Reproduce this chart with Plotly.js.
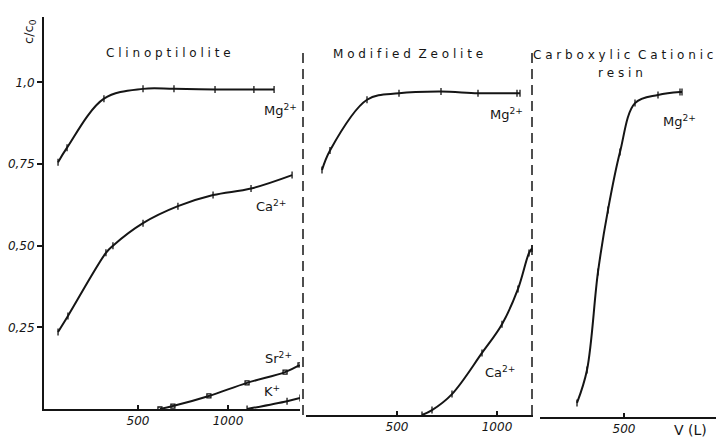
<!DOCTYPE html>
<html>
<head>
<meta charset="utf-8">
<script src="https://cdn.plot.ly/plotly-3.0.1.min.js"></script>
<style>
  html, body { margin: 0; padding: 0; background: #fff; }
  #chart { width: 716px; height: 441px; }
</style>
</head>
<body>
<div id="chart"></div>
<script>
// Breakthrough curves c/c0 against effluent volume V (L)

// Clinoptilolite
const clinoMgV = [56, 106, 311, 528, 700, 928, 1144, 1256];
const clinoMgC = [0.755, 0.80, 0.95, 0.98, 0.98, 0.978, 0.978, 0.978];
const clinoCaV = [56, 111, 322, 361, 528, 722, 917, 1128, 1356];
const clinoCaC = [0.236, 0.285, 0.478, 0.50, 0.569, 0.621, 0.655, 0.675, 0.716];
const clinoSrV = [622, 694, 894, 1106, 1317, 1400];
const clinoSrC = [0.0, 0.009, 0.04, 0.08, 0.113, 0.135];
const clinoKV = [1106, 1328, 1400];
const clinoKC = [0.0, 0.024, 0.034];

// Modified zeolite
const modMgV = [125, 165, 350, 510, 720, 905, 1100, 1115];
const modMgC = [0.75, 0.81, 0.965, 0.985, 0.99, 0.985, 0.985, 0.985];
const modCaV = [625, 675, 775, 925, 1025, 1105, 1160, 1175];
const modCaC = [0.0, 0.015, 0.064, 0.19, 0.278, 0.386, 0.496, 0.51];

// Carboxylic cationic resin
const resinMgV = [265, 315, 370, 420, 480, 555, 670, 780, 790];
const resinMgC = [0.043, 0.144, 0.444, 0.634, 0.811, 0.961, 0.986, 0.995, 0.995];

// axis labels
const yTickVals = [0.25, 0.5, 0.75, 1.0];
const yTickText = ['0,25', '0,50', '0,75', '1,0'];
const xTickVals12 = [500, 1000];
const xTickText12 = ['500', '1000'];
const xTickVals3 = [500];
const xTickText3 = ['500'];

const ink = '#151515';
const hand = 'DejaVu Sans, sans-serif';

function curve(x, y, xa, ya, symbol, msize) {
  return {
    x: x, y: y, xaxis: xa, yaxis: ya,
    type: 'scatter', mode: 'lines+markers',
    line: { color: ink, width: 2, shape: 'spline', smoothing: 1 },
    marker: { symbol: symbol, size: msize, color: ink, line: { color: ink, width: 1.3 } },
    hoverinfo: 'skip', showlegend: false
  };
}

const traces = [
  curve(clinoMgV, clinoMgC, 'x', 'y', 'line-ns', 5),
  curve(clinoCaV, clinoCaC, 'x', 'y', 'line-ns', 5),
  curve(clinoSrV, clinoSrC, 'x', 'y', 'square-open', 4),
  curve(clinoKV, clinoKC, 'x', 'y', 'line-ns', 5),
  curve(modMgV, modMgC, 'x2', 'y2', 'line-ns', 5),
  curve(modCaV, modCaC, 'x2', 'y2', 'line-ns', 5),
  curve(resinMgV, resinMgC, 'x3', 'y3', 'line-ns', 5)
];

// plot area: left 44, top 17, width 672, height 400
const L = 44, T = 17, W = 672, H = 400;
const px = v => (v - L) / W;
const py = v => (T + H - v) / H;

const tickFont = { family: hand, size: 12, color: ink, style: 'italic' };

function xAxis(domain, range, vals, text, anchor) {
  return {
    domain: domain, range: range, anchor: anchor,
    showline: true, linecolor: ink, linewidth: 2,
    showgrid: false, zeroline: false,
    ticks: 'inside', ticklen: 4, tickwidth: 1.5, tickcolor: ink,
    tickvals: vals, ticktext: text, tickfont: tickFont
  };
}
function hiddenY(domain, anchor) {
  return { domain: domain, range: [0, 1.2], anchor: anchor, visible: false };
}

const labelFont = { family: hand, size: 13, color: ink };
const titleFont = { family: hand, size: 12, color: ink };
function note(text, x, y, extra) {
  return Object.assign({
    xref: 'paper', yref: 'paper', x: px(x), y: py(y),
    text: text, showarrow: false, font: labelFont,
    xanchor: 'center', yanchor: 'middle'
  }, extra || {});
}

const layout = {
  width: 716, height: 441,
  margin: { l: L, r: 0, t: T, b: 24, pad: 0 },
  paper_bgcolor: '#ffffff', plot_bgcolor: '#ffffff',
  showlegend: false,
  xaxis: xAxis([0, px(300)], [-22, 1400], xTickVals12, xTickText12, 'y'),
  xaxis2: xAxis([px(306), px(533)], [45, 1180], xTickVals12, xTickText12, 'y2'),
  xaxis3: xAxis([px(540), 1], [80, 960], xTickVals3, xTickText3, 'y3'),
  yaxis: {
    domain: [py(409), 1], range: [0, 1.2], anchor: 'x',
    showline: true, linecolor: ink, linewidth: 2,
    showgrid: false, zeroline: false,
    ticks: 'outside', ticklen: 5, tickwidth: 1.5, tickcolor: ink,
    tickvals: yTickVals, ticktext: yTickText, tickfont: tickFont
  },
  yaxis2: hiddenY([py(415), py(23)], 'x2'),
  yaxis3: hiddenY([0, py(25)], 'x3'),
  shapes: [
    { type: 'line', xref: 'paper', yref: 'paper', x0: px(303), x1: px(303), y0: py(415), y1: py(50),
      line: { color: ink, width: 1.5, dash: '10px,6px' } },
    { type: 'line', xref: 'paper', yref: 'paper', x0: px(532), x1: px(532), y0: py(415), y1: py(48),
      line: { color: ink, width: 1.5, dash: '10px,6px' } }
  ],
  annotations: [
    note('c/c<sub>0</sub>', 30, 32, { textangle: -90 }),
    note('C l i n o p t i l o l i t e', 168, 53, { font: titleFont }),
    note('M o d i f i e d  Z e o l i t e', 408, 54, { font: titleFont }),
    note('C a r b o x y l i c  C a t i o n i c', 623, 55, { font: titleFont }),
    note('r e s i n', 620, 73, { font: titleFont }),
    note('Mg<sup>2+</sup>', 280, 110),
    note('Ca<sup>2+</sup>', 271, 206),
    note('Sr<sup>2+</sup>', 278, 358),
    note('K<sup>+</sup>', 272, 391),
    note('Mg<sup>2+</sup>', 506, 114),
    note('Ca<sup>2+</sup>', 500, 372),
    note('Mg<sup>2+</sup>', 679, 121),
    note('V (L)', 690, 430, { font: { family: hand, size: 14, color: ink } })
  ]
};

Plotly.newPlot('chart', traces, layout, { displayModeBar: false, responsive: false });
</script>
</body>
</html>
